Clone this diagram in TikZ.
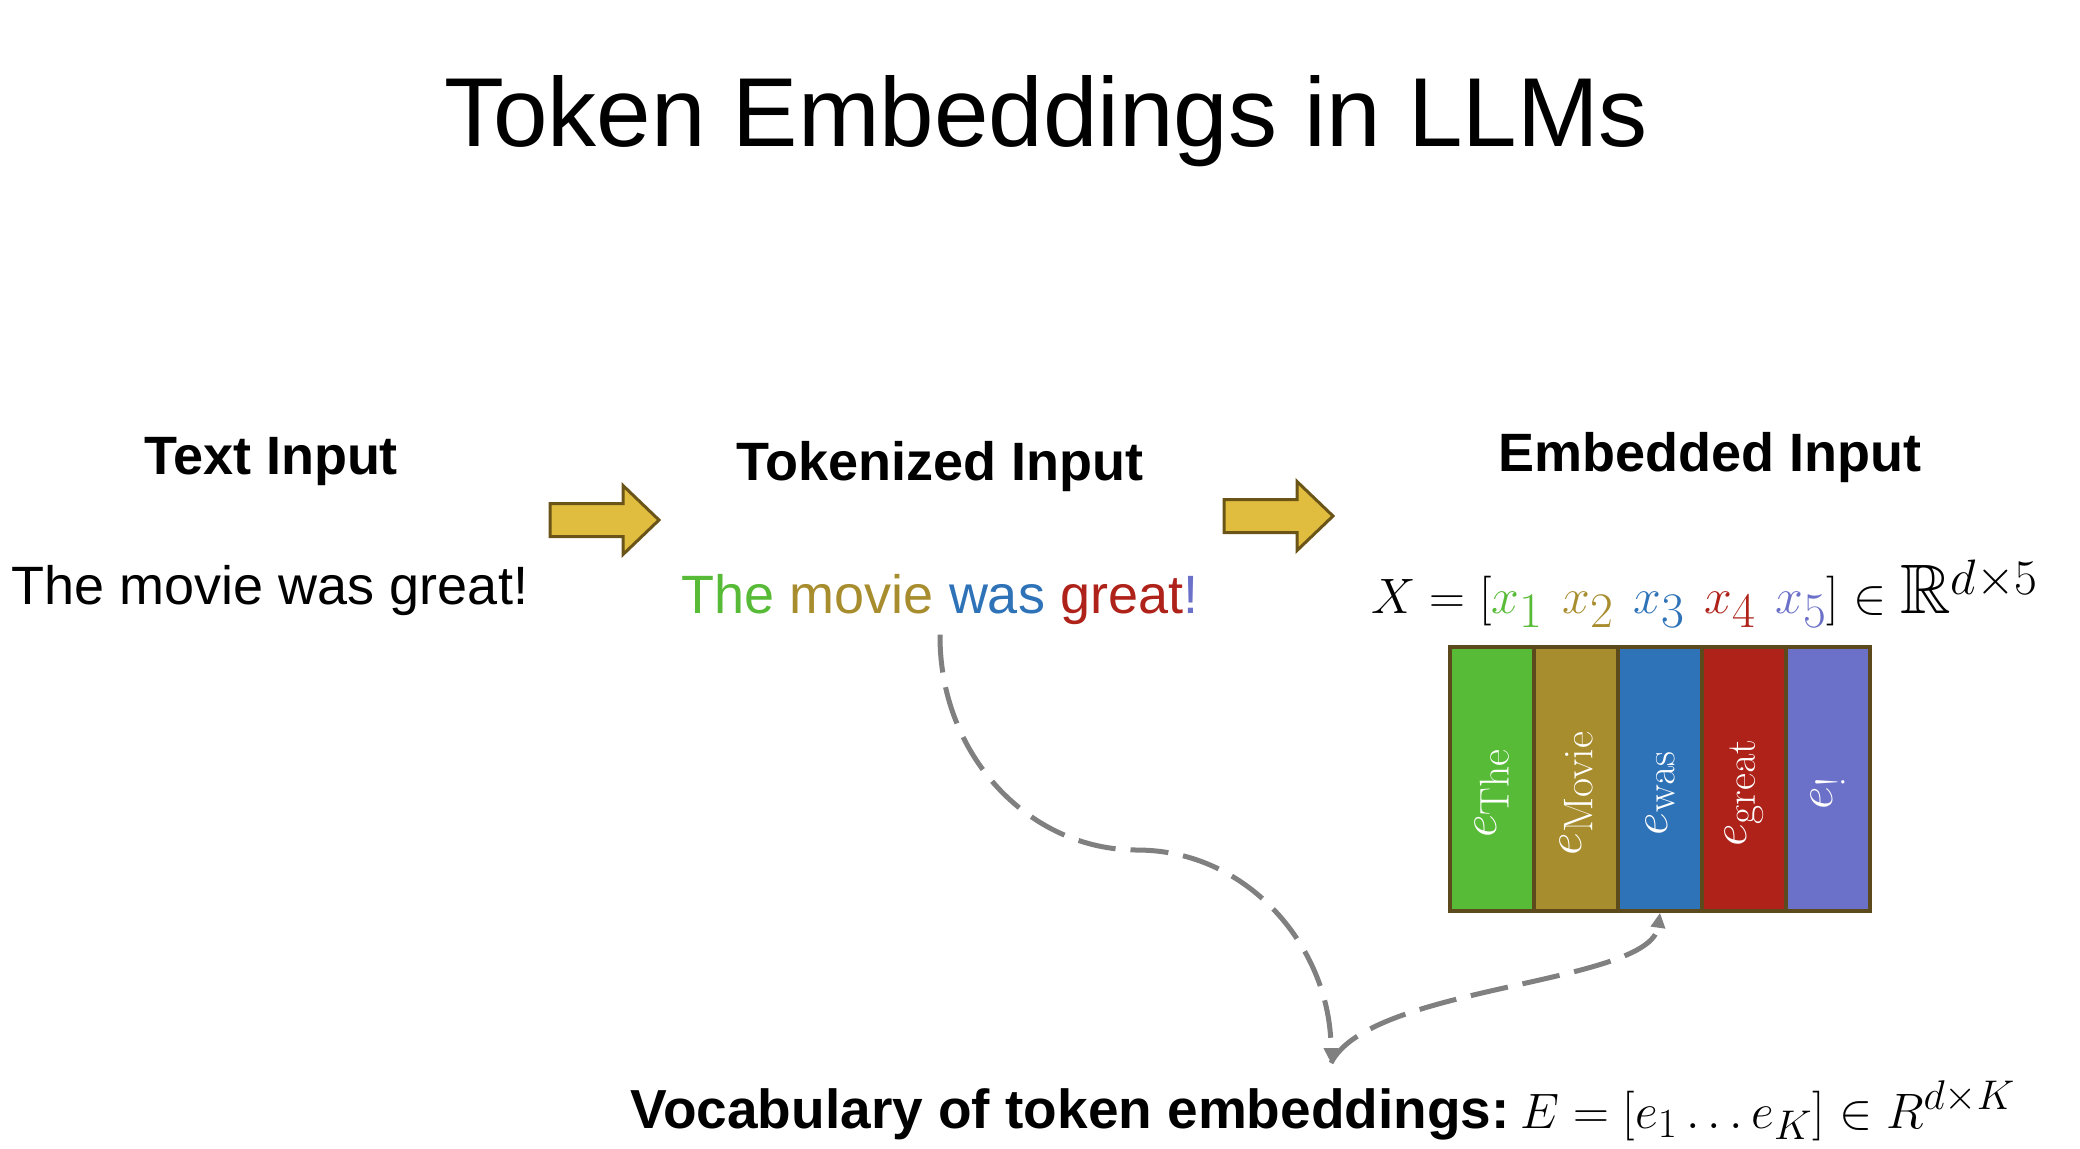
\documentclass[tikz,border=0pt]{standalone}
\usepackage{amsmath,amssymb}
\usepackage[no-math]{fontspec}
\setmainfont{Liberation Sans}
\usetikzlibrary{arrows.meta, positioning}

\definecolor{thecolor}{RGB}{87,187,55}
\definecolor{moviecolor}{RGB}{168,141,47}
\definecolor{wascolor}{RGB}{46,114,184}
\definecolor{greatcolor}{RGB}{174,34,26}
\definecolor{bangcolor}{RGB}{107,112,200}
\definecolor{arrowfill}{RGB}{224,189,63}
\definecolor{arrowedge}{RGB}{107,84,23}
\definecolor{celledge}{RGB}{92,74,28}
\definecolor{linkgray}{RGB}{128,128,128}

\tikzstyle{heading} = [
    font=\fontsize{27}{32}\selectfont\bfseries,
    anchor=base,
    inner sep=0pt
]
\tikzstyle{plaintext} = [
    font=\fontsize{27}{32}\selectfont,
    anchor=base,
    inner sep=0pt
]
\tikzstyle{bigarrow} = [
    draw=arrowedge,
    fill=arrowfill,
    line width=1.5pt,
    line join=miter
]
\tikzstyle{cellbox} = [
    rectangle,
    draw=celledge,
    line width=1.75pt,
    minimum width=42pt,
    minimum height=132pt,
    inner sep=0pt
]
\tikzstyle{celllabel} = [
    rotate=90,
    text=white,
    font=\fontsize{31}{36}\selectfont,
    inner sep=0pt
]
\tikzstyle{lookup} = [
    -{Triangle[length=7.5pt,width=7pt]},
    dash pattern=on 19pt off 7.5pt,
    line width=2.5pt,
    color=linkgray
]

\begin{document}
\begin{tikzpicture}[x=0.5pt, y=-0.5pt]

\useasboundingbox (0,0) rectangle (2080,1148);

% Title
\node[plaintext, font=\fontsize{49}{56}\selectfont] (title) at (1046,146) {Token Embeddings in LLMs};

% Step 1: raw text
\node[heading] (textinput) at (271,474) {Text Input};
\node[plaintext] (sentence) at (270,604) {The movie was great!};

% Arrow 1
\coordinate (arrow1) at (550,520);
\draw[bigarrow] (arrow1) ++(0,-16.5) -- ++(73,0) -- ++(0,-18) -- ++(36,34.5)
    -- ++(-36,34.5) -- ++(0,-18) -- ++(-73,0) -- cycle;

% Step 2: tokens
\node[heading] (tokinput) at (940,480) {Tokenized Input};
\node[plaintext] (tokens) at (940,613) {{\color{thecolor}The} {\color{moviecolor}movie} {\color{wascolor}was} {\color{greatcolor}great}{\color{bangcolor}!}};

% Arrow 2
\coordinate (arrow2) at (1224,516);
\draw[bigarrow] (arrow2) ++(0,-16.5) -- ++(73,0) -- ++(0,-18) -- ++(36,34.5)
    -- ++(-36,34.5) -- ++(0,-18) -- ++(-73,0) -- cycle;

% Step 3: embeddings
\node[heading] (embinput) at (1710,471) {Embedded Input};
\node[plaintext, font=\fontsize{35}{40}\selectfont] (matrixeq) at (1705,613) {$X=[\textcolor{thecolor}{x_1}\ \textcolor{moviecolor}{x_2}\ \textcolor{wascolor}{x_3}\ \textcolor{greatcolor}{x_4}\ \textcolor{bangcolor}{x_5}]\in\mathbb{R}^{d\times 5}$};

% Embedding columns
\node[cellbox, fill=thecolor] (cellThe) at (1492,779) {};
\node[cellbox, fill=moviecolor] (cellMovie) at (1576,779) {};
\node[cellbox, fill=wascolor] (cellwas) at (1660,779) {};
\node[cellbox, fill=greatcolor] (cellgreat) at (1744,779) {};
\node[cellbox, fill=bangcolor] (cellbang) at (1828,779) {};

\node[celllabel] at ([yshift=-7pt]cellThe.center) {$e_{\mathrm{The}}$};
\node[celllabel] at ([yshift=-7pt]cellMovie.center) {$e_{\mathrm{Movie}}$};
\node[celllabel] at ([yshift=-7pt]cellwas.center) {$e_{\mathrm{was}}$};
\node[celllabel] at ([yshift=-7pt]cellgreat.center) {$e_{\mathrm{great}}$};
\node[celllabel] at ([yshift=-7pt]cellbang.center) {$e_{\mathrm{!}}$};

% Vocabulary
\node[plaintext, font=\fontsize{27.5}{32}\selectfont] (vocab) at (1323,1128) {{\bfseries Vocabulary of token embeddings:}{\fontsize{32}{36}\selectfont\,$E=[e_1\ldots e_K]\in R^{d\times K}$}};
\coordinate (vocabtip) at (1331,1063);

% Lookup links
\draw[lookup] ([yshift=-5pt]tokens.south) .. controls (939,754) and (1028,850) .. (1137,850)
    .. controls (1250,850) and (1331,950) .. (vocabtip);
\draw[lookup] (vocabtip) .. controls (1370,985) and (1650,985) .. (cellwas.south);

\end{tikzpicture}
\end{document}
